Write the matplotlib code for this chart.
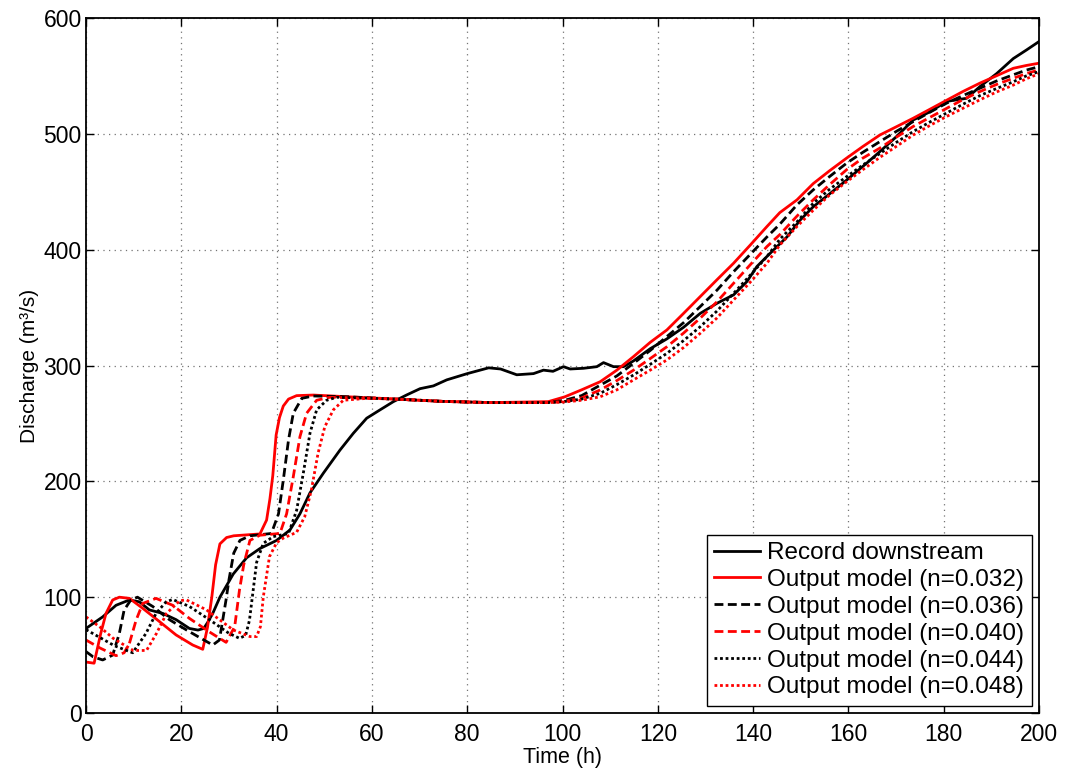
import matplotlib
matplotlib.use("Agg")
import matplotlib.pyplot as plt

# ----------------------------------------------------
# Data
# ----------------------------------------------------
rec_t = [0, 3.5, 6.3, 9.1, 11.2, 13.3, 16.1, 18.9, 21.7, 23.5, 24.7, 25.5, 26.6, 28.1,
         29.5, 30.9, 33.7, 36.5, 40, 42.8, 44.9, 47, 49.8, 53.3, 56.1, 58.9, 61.7, 64.5,
         67.3, 70.1, 72.9, 75.7, 80, 84.5, 87, 90.4, 93.9, 96, 98, 100.2, 101.6, 104.4,
         107.2, 108.6, 110.7, 112.8, 114.9, 118.4, 121.9, 125.4, 128.9, 132.4, 135.9,
         138.7, 140.8, 143.6, 147.1, 149.9, 152.6, 156, 159.6, 163.8, 166.6, 170.1,
         173.6, 177.1, 180.6, 184.8, 187.6, 191.1, 194.6, 197.4, 200]
rec_q = [73, 83, 93, 97.6, 96, 89, 86, 80.6, 73, 71.6, 73, 78, 86, 100,
         110, 120, 134, 142, 149, 158, 172, 190, 207, 227, 241.5, 254.5, 261.7, 268.8,
         274.6, 280, 282.4, 287.6, 293, 298, 297, 292, 293, 296, 295, 299, 297, 297.6,
         299, 302.5, 299, 299, 304, 314.5, 323, 333, 345, 353.7, 361,
         372.5, 385.5, 397, 411, 425.7, 437, 448, 460, 474.6, 484.7, 497.7,
         512, 519, 528, 530.7, 540.8, 552, 565, 572.5, 579.7]

# common time points of the rising limb (all model runs)
tail_t = [97, 100.5, 104, 107.9, 111.4, 114.9, 118.4, 121.9, 125.4, 128.9, 132.4, 135.9,
          139.4, 142.9, 145.6, 149.2, 152.6, 156, 159.6, 163, 166.6, 170, 173.6, 177,
          180.6, 184, 187.6, 191, 194.6, 197.3, 200]

# n = 0.032
n032_t = [0, 1.7, 3.1, 4.2, 5.6, 7, 9.1, 11.9, 15.4, 18.9, 22.4, 24.5, 25.5, 26.4, 27.2,
          28.1, 29.5, 31, 36.5, 37.9, 38.6, 39.2, 39.9, 40.6, 41.4, 42.5, 44.2, 47.7,
          55, 65, 75, 85] + tail_t
n032_q = [44, 43, 68.8, 86, 97.6, 100, 99, 90.4, 79, 67.4, 58.7, 55, 74, 100, 128,
          146, 151.5, 153, 154.6, 166.6, 185, 205, 240, 255, 265, 271, 274, 274.5,
          273, 271, 269, 268] + \
         [268.8, 273, 279, 286, 296, 307.7, 320, 330.7, 345, 359.5, 374, 388.3,
          404, 420, 432, 443, 457, 468, 479, 489, 499, 506, 513.5, 521,
          529, 536.5, 543.8, 550, 556.6, 559, 561]

# n = 0.036
n036_t = [0, 1.5, 3.5, 5.6, 7, 8, 9.4, 10.8, 14, 17.5, 21, 24.5, 26.6, 28, 28.6, 29.4,
          30, 31, 32.3, 34.4, 38.9, 40.4, 41.4, 42.5, 43.5, 45.3, 47.7, 55, 65, 75,
          85] + tail_t
n036_q = [53, 48.5, 45.8, 50, 68.8, 88.9, 97.6, 100, 92, 80.6, 71.9, 63.6, 58.7, 63, 78,
          98, 115, 138, 149, 153, 155, 172, 201, 235.8, 258.8, 271.7, 273.7, 273, 271,
          269, 268] + \
         [268, 270, 274, 283, 291, 301.9, 313, 325, 337, 350.9, 365, 381,
          396, 411, 422, 438.7, 451.6, 463, 474.6, 484, 493.3, 502, 510.6, 518.5,
          526.5, 533, 539.4, 545.5, 551, 555, 558]

# n = 0.040
n040_t = [0, 3, 6.3, 8, 9.1, 10.5, 11.9, 14.7, 18.2, 21.7, 25.9, 29.4, 31.2, 32.2, 33.1,
          34.4, 36.5, 40.7, 42.1, 43.5, 44.9, 46.3, 48.4, 51.2, 57, 65, 75, 85] + tail_t
n040_q = [63, 56, 49.5, 52, 60, 80, 94.6, 99, 93, 81.7, 70, 61, 74.5, 106, 128,
          149, 153.5, 155, 172, 204, 238.6, 258.8, 270, 272.6, 272, 271, 269, 268] + \
         [268, 269, 272, 278.9, 287, 296, 306, 316.2, 328, 340.9, 355, 371,
          387, 402.7, 413, 429, 443, 456, 469, 479, 487.7, 497, 506.4, 514,
          522, 529.5, 536.5, 542.5, 548, 552, 555.2]

# n = 0.044
n044_t = [0, 3, 6, 9.8, 12.6, 14.7, 16.8, 18.2, 21.7, 25.9, 30, 32.2, 33.5, 34.3, 34.9,
          35.8, 37.2, 39.3, 42.5, 44.2, 45.6, 47, 48.4, 50.5, 52.6, 58, 65, 75,
          85] + tail_t
n044_q = [72, 65, 58, 52, 68.8, 86, 96, 98, 92, 80.6, 68.8, 64.5, 67, 80, 100,
          130, 146.5, 152.3, 155, 175, 207, 241.5, 261.7, 270, 272.6, 272, 271, 269,
          268] + \
         [268, 269, 271, 276, 283.5, 291.8, 301, 310.5, 321.5, 333.5, 347, 362.3,
          378, 394, 409, 424, 440, 452, 463, 473, 483, 492.5, 502, 510,
          518, 525.5, 533, 539, 545, 550, 553.8]

# n = 0.048
n048_t = [0, 3, 5.7, 9.9, 12.7, 14.8, 16.9, 19.7, 21.1, 25.3, 28.1, 30.9, 34.4, 35.8,
          36.6, 37.2, 38.5, 40, 41.4, 44.2, 45.9, 47.3, 48.7, 50.1, 51.9, 54, 60, 65,
          75, 85] + tail_t
n048_q = [83, 74, 64.5, 54, 54, 68.8, 86, 97, 97.6, 89, 80.3, 71.7, 66, 66,
          74.5, 100, 135, 147, 151, 156, 169.5, 192.6, 224.3, 247, 261.7, 270, 272, 271,
          269, 268] + \
         [268, 268.5, 270, 273, 279, 287.6, 296, 304.8, 315.5, 327.8, 341, 356.6,
          372, 388.3, 404, 420, 434, 447, 458.6, 469, 479.7, 489, 499, 507,
          515, 522, 529.4, 536, 542.1, 547.5, 551.9]

labels = ["Record downstream",
          "Output model (n=0.032)",
          "Output model (n=0.036)",
          "Output model (n=0.040)",
          "Output model (n=0.044)",
          "Output model (n=0.048)"]

# ----------------------------------------------------
# Plot
# ----------------------------------------------------
plt.rcParams['font.family'] = ['Liberation Sans', 'DejaVu Sans']

fig = plt.figure(figsize=(10.67, 7.73), dpi=100)
ax = fig.add_axes([0.0806, 0.0776, 0.8932, 0.8991])

lw = 2.0
dash = (3.2, 1.6)
dot = (1.0, 1.0)
ax.plot(rec_t, rec_q, color='k', lw=lw, label=labels[0])
ax.plot(n032_t, n032_q, color='r', lw=lw, label=labels[1])
ax.plot(n036_t, n036_q, color='k', lw=lw, dashes=dash, label=labels[2])
ax.plot(n040_t, n040_q, color='r', lw=lw, dashes=dash, label=labels[3])
ax.plot(n044_t, n044_q, color='k', lw=lw, dashes=dot, label=labels[4])
ax.plot(n048_t, n048_q, color='r', lw=lw, dashes=dot, label=labels[5])

ax.set_xlim(0, 200)
ax.set_ylim(0, 600)
ax.set_xticks(range(0, 201, 20))
ax.set_yticks(range(0, 601, 100))
ax.grid(True, linestyle=(0, (1, 3.5)), color='0.45', lw=0.9)
ax.tick_params(direction='in', length=6, width=1, top=True, right=True,
               labelsize=16.5)
ax.tick_params(axis='x', pad=7)
ax.tick_params(axis='y', pad=3)
for s in ax.spines.values():
    s.set_linewidth(1.3)

ax.set_xlabel("Time (h)", fontsize=15.5, labelpad=1)
ax.set_ylabel("Discharge (m³/s)", fontsize=15, labelpad=3)

leg = ax.legend(loc='lower right', fontsize=17.5, fancybox=False, framealpha=1,
                edgecolor='k', handlelength=1.9, handletextpad=0.3,
                labelspacing=0.2, borderpad=0.3, borderaxespad=0.3)
leg.get_frame().set_linewidth(1.0)

fig.savefig("out.png", dpi=100)
